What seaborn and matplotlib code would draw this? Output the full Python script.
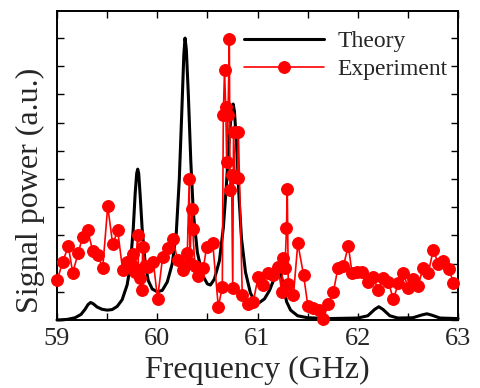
import matplotlib
matplotlib.use("Agg")
import matplotlib.pyplot as plt
import seaborn as sns
import numpy as np
import pandas as pd
from matplotlib.ticker import MultipleLocator, FuncFormatter

# ---- Theory curve ----
theory_f = [59.00, 59.10, 59.18, 59.24, 59.28, 59.31, 59.335, 59.36, 59.40, 59.45,
            59.50, 59.55, 59.60, 59.65, 59.70, 59.73, 59.76, 59.78, 59.795, 59.805,
            59.815, 59.83, 59.85, 59.88, 59.91, 59.95, 60.00, 60.05, 60.10, 60.15,
            60.19, 60.22, 60.245, 60.265, 60.277, 60.29, 60.31, 60.335, 60.36, 60.40,
            60.45, 60.50, 60.53, 60.57, 60.62, 60.66, 60.69, 60.72, 60.745, 60.757,
            60.77, 60.79, 60.815, 60.84, 60.88, 60.93, 60.98, 61.02, 61.07, 61.12,
            61.17, 61.21, 61.23, 61.26, 61.29, 61.33, 61.40, 61.50, 61.70, 62.00,
            62.10, 62.17, 62.21, 62.25, 62.32, 62.40, 62.55, 62.64, 62.69, 62.74,
            62.82, 63.00]
theory_v = [0.00, 0.02, 0.08, 0.20, 0.38, 0.55, 0.62, 0.58, 0.46, 0.38,
            0.35, 0.37, 0.48, 0.72, 1.25, 1.90, 3.20, 4.50, 5.20, 5.35,
            5.20, 4.40, 3.20, 2.00, 1.40, 1.10, 1.00, 1.05, 1.35, 2.00,
            3.10, 5.00, 7.40, 9.40, 10.00, 9.60, 8.00, 5.60, 3.80, 2.40,
            1.60, 1.28, 1.24, 1.45, 2.10, 3.30, 4.80, 6.60, 7.50, 7.66,
            7.40, 6.30, 4.40, 2.90, 1.70, 0.95, 0.62, 0.62, 0.75, 1.05,
            1.50, 1.75, 1.70, 1.20, 0.65, 0.35, 0.15, 0.08, 0.05, 0.07,
            0.15, 0.38, 0.47, 0.38, 0.15, 0.07, 0.08, 0.18, 0.22, 0.17,
            0.07, 0.05]

# ---- Experiment ----
exp_f = [59.003, 59.057, 59.113, 59.157, 59.212, 59.256, 59.306, 59.356, 59.406, 59.456,
         59.506, 59.556, 59.605, 59.655, 59.698, 59.748, 59.763, 59.778, 59.805, 59.813,
         59.828, 59.845, 59.855, 59.878, 59.911, 59.961, 60.003, 60.054, 60.104, 60.154,
         60.204, 60.254, 60.300, 60.319, 60.326, 60.343, 60.353, 60.376, 60.406, 60.459,
         60.493, 60.553, 60.609, 60.649, 60.659, 60.671, 60.683, 60.693, 60.706, 60.719,
         60.726, 60.741, 60.753, 60.761, 60.776, 60.801, 60.809, 60.848, 60.902, 60.958,
         61.005, 61.052, 61.108, 61.155, 61.205, 61.242, 61.251, 61.274, 61.289, 61.297,
         61.307, 61.359, 61.402, 61.459, 61.502, 61.557, 61.610, 61.656, 61.706, 61.756,
         61.803, 61.856, 61.906, 61.943, 61.990, 62.040, 62.105, 62.155, 62.205, 62.255,
         62.305, 62.355, 62.405, 62.455, 62.505, 62.554, 62.604, 62.651, 62.704, 62.754,
         62.804, 62.853, 62.910, 62.953]
exp_v = [1.42, 2.07, 2.61, 1.68, 2.38, 2.96, 3.19, 2.45, 2.32, 1.84,
         4.04, 2.68, 3.18, 1.77, 2.06, 1.95, 2.34, 1.70, 3.01, 1.77,
         1.49, 1.06, 2.59, 1.91, 1.88, 2.06, 0.76, 2.24, 2.55, 2.87,
         2.13, 1.77, 2.38, 5.00, 2.02, 3.94, 3.24, 1.91, 1.56, 1.83,
         2.60, 2.74, 0.47, 1.17, 7.27, 8.87, 7.55, 5.60, 7.27, 9.98,
         4.61, 5.14, 1.15, 6.68, 5.07, 5.04, 6.68, 0.89, 0.57, 0.65,
         1.51, 1.24, 1.68, 1.58, 1.89, 0.99, 2.20, 1.84, 3.25, 4.63,
         1.29, 0.90, 2.72, 1.61, 0.51, 0.41, 0.34, 0.02, 0.57, 0.98,
         1.86, 1.91, 2.63, 1.67, 1.71, 1.71, 1.35, 1.51, 1.06, 1.48,
         1.36, 0.73, 1.30, 1.65, 1.12, 1.45, 1.22, 1.86, 1.68, 2.50,
         1.98, 2.09, 1.80, 1.33]

xtick_labels = ["59", "60", "61", "62", "63"]

sns.set_theme(style="ticks")
plt.rcParams['font.family'] = ['Liberation Serif', 'DejaVu Serif']

fig = plt.figure(figsize=(4.8, 3.88), dpi=100)
ax = fig.add_axes([57/480, 1-320/388, (458-57)/480, (320-11)/388])

th = pd.DataFrame({"f": theory_f, "v": theory_v})
ex = pd.DataFrame({"f": exp_f, "v": exp_v})

sns.lineplot(data=th, x="f", y="v", ax=ax, color="black", linewidth=2.2,
             estimator=None, sort=False, label="Theory", zorder=2)
sns.lineplot(data=ex, x="f", y="v", ax=ax, color="#ff0000", linewidth=1.2,
             marker="o", markersize=8.5, markeredgecolor="#ff0000",
             estimator=None, sort=False, label="Experiment", zorder=3)
for ln in ax.lines:
    ln.set_clip_on(False)

ax.set_xlim(59, 63)
ax.set_ylim(0, 10.96)
ax.xaxis.set_major_locator(MultipleLocator(0.5))
ax.xaxis.set_major_formatter(FuncFormatter(
    lambda v, p: xtick_labels[int(round(v - 59))] if abs(v - round(v)) < 1e-6 else ""))
ax.yaxis.set_major_locator(MultipleLocator(1))
ax.tick_params(direction="in", length=5, width=1.0, top=True, right=True,
               labelsize=19, pad=6, color="black")
ax.tick_params(axis="y", labelleft=False)
for s in ax.spines.values():
    s.set_linewidth(1.4)
    s.set_color("black")

ax.set_xlabel("Frequency (GHz)", fontsize=23, labelpad=4)
ax.set_ylabel("Signal power (a.u.)", fontsize=23)
ax.yaxis.set_label_coords(-0.03, 0.42)

leg = ax.legend(loc="upper left", bbox_to_anchor=(0.46, 0.945), frameon=False,
                fontsize=17, handlelength=3.4, handletextpad=0.55,
                borderaxespad=0, borderpad=0.1, labelspacing=0.3)

fig.savefig("out.png", dpi=100)
